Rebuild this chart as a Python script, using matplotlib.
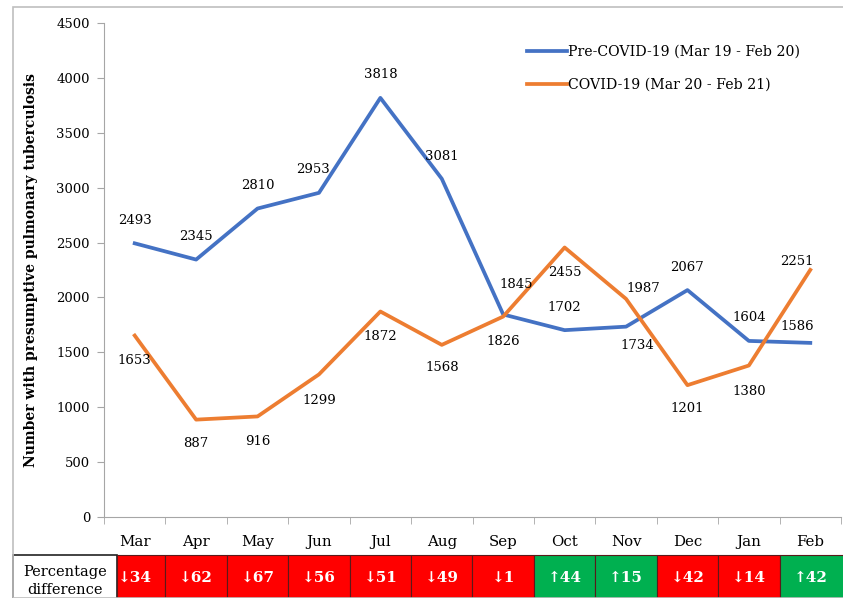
import numpy as np
import matplotlib.pyplot as plt
from matplotlib.patches import Rectangle

plt.rcParams['font.family'] = ['DejaVu Serif', 'DejaVu Sans']

months = ["Mar", "Apr", "May", "Jun", "Jul", "Aug", "Sep", "Oct", "Nov", "Dec", "Jan", "Feb"]
pre_covid = [2493, 2345, 2810, 2953, 3818, 3081, 1845, 1702, 1734, 2067, 1604, 1586]
covid = [1653, 887, 916, 1299, 1872, 1568, 1826, 2455, 1987, 1201, 1380, 2251]
pct_diff = [-34, -62, -67, -56, -51, -49, -1, 44, 15, -42, -14, 42]

# label offsets in pixels (dx, dy)
pre_off = [(0, 23), (0, 23), (0, 23), (-6, 23), (0, 23), (0, 22), (13, 30),
           (0, 23), (11, -19), (0, 23), (0, 23), (-13, 16)]
cov_off = [(0, -25), (0, -24), (0, -25), (0, -26), (0, -25), (0, -23), (0, -25),
           (0, -25), (17, 10), (0, -23), (0, -26), (-13, 8)]

blue = "#4472C4"
orange = "#ED7D31"
red = "#FF0000"
green = "#00B050"

W, H = 843, 598
fig = plt.figure(figsize=(W / 100, H / 100), dpi=100)

# outer chart border
fig.patches.append(Rectangle((13 / W, 0), 1, (H - 7) / H, transform=fig.transFigure,
                             fill=False, edgecolor="#BFBFBF", lw=1.2))

ax = fig.add_axes([104 / W, (H - 517) / H, 737 / W, 494 / H])
x = np.arange(len(months))
ax.plot(x, pre_covid, color=blue, lw=2.7, label="Pre-COVID-19 (Mar 19 - Feb 20)")
ax.plot(x, covid, color=orange, lw=2.7, label="COVID-19 (Mar 20 - Feb 21)")

for i in range(len(months)):
    ax.annotate(str(pre_covid[i]), (x[i], pre_covid[i]), xytext=pre_off[i],
                textcoords="offset pixels", ha="center", va="center", fontsize=9.5)
    ax.annotate(str(covid[i]), (x[i], covid[i]), xytext=cov_off[i],
                textcoords="offset pixels", ha="center", va="center", fontsize=9.5)

ax.set_xlim(-0.5, len(months) - 0.5)
ax.set_ylim(0, 4500)
ax.set_yticks(np.arange(0, 4501, 500))
ax.set_xticks(x)
ax.set_xticklabels(months, fontsize=10.8)
ax.set_xticks(np.arange(-0.5, len(months), 1), minor=True)
ax.tick_params(axis="x", which="major", length=0, pad=13)
ax.tick_params(axis="x", which="minor", length=5, color="#A6A6A6")
ax.tick_params(axis="y", length=5, color="#A6A6A6", pad=5, labelsize=9.5)
for s in ["top", "right"]:
    ax.spines[s].set_visible(False)
for s in ["left", "bottom"]:
    ax.spines[s].set_color("#A6A6A6")
ax.set_ylabel("Number with presumptive pulmonary tuberculosis", fontsize=10,
              fontweight="bold")
ax.yaxis.set_label_coords(-0.09, 0.5)

ax.legend(loc="upper right", bbox_to_anchor=(0.962, 0.982), frameon=False, fontsize=10.2,
          handlelength=2.8, handletextpad=0.1, labelspacing=1.35)

# percentage difference table
ppu = 737 / 12
left_data = -0.5 - (104 - 13) / ppu
right_data = 11.5 + (W - 841) / ppu
tax = fig.add_axes([13 / W, 0, (W - 13) / W, 43 / H])
tax.set_xlim(left_data, right_data)
tax.set_ylim(0, 1)
tax.axis("off")
label_right = -0.5 + (117 - 104) / ppu
tax.add_patch(Rectangle((left_data, -0.5), label_right - left_data, 1.5, facecolor="white",
                        edgecolor="#222222", lw=1.2, clip_on=False))
tax.text((left_data + label_right) / 2, 0.40, "Percentage\ndifference", ha="center",
         va="center", fontsize=10.5, linespacing=1.4)
for i, v in enumerate(pct_diff):
    x0 = label_right if i == 0 else i - 0.5
    x1 = right_data + 0.5 if i == len(pct_diff) - 1 else i + 0.5
    col = green if v > 0 else red
    tax.add_patch(Rectangle((x0, -0.5), x1 - x0, 1.5, facecolor=col, edgecolor="#5a1a1a",
                            lw=0.8, clip_on=False))
    arrow = "\u2191" if v > 0 else "\u2193"
    tax.text(i, 0.47, f"{arrow}{abs(v)}", ha="center", va="center", color="white",
             fontsize=11, fontweight="bold")

fig.savefig("out.png", dpi=100)
